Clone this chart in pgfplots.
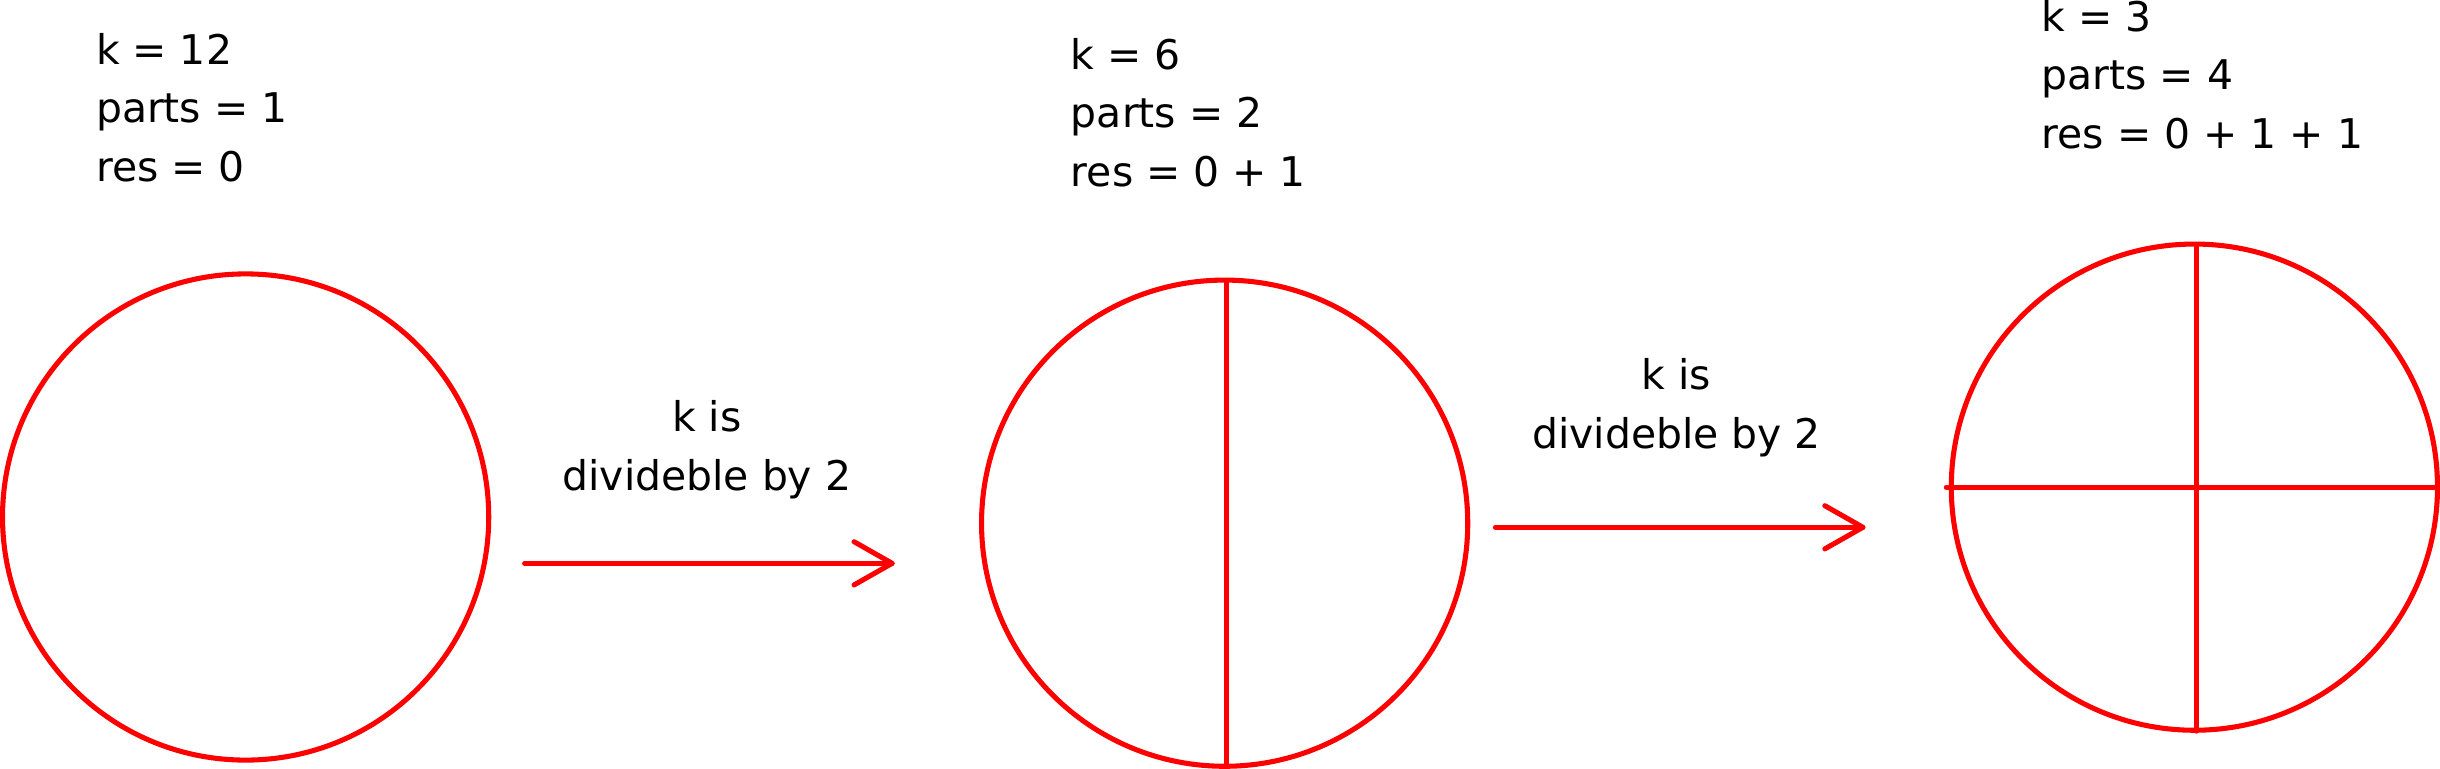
\documentclass[border=0pt]{standalone}
\usepackage{pgfplots}
\pgfplotsset{compat=1.18}
\usepackage{fontspec}
\setmainfont{DejaVu Sans}
\begin{document}
\begin{tikzpicture}
\begin{axis}[hide axis, scale only axis, x=0.01cm, y=0.01cm, xmin=0, xmax=2440, ymin=0, ymax=895, y dir=reverse, clip=false]
\tikzset{every node/.style={font=\fontsize{11.3}{13}\selectfont, inner sep=0pt}, ln/.style={red, solid, no markers, line width=1.4pt, line cap=round, line join=round}}
\draw[red, line width=1.4pt] (axis cs:279,548) circle[radius=2.36cm];
\draw[red, line width=1.4pt] (axis cs:1230,554) circle[radius=2.36cm];
\draw[red, line width=1.4pt] (axis cs:2172,519) circle[radius=2.36cm];
\addplot[ln] coordinates {(1232,320) (1232,790)};
\addplot[ln] coordinates {(2174,284) (2174,756)};
\addplot[ln] coordinates {(1931,519) (2408,519)};
\addplot[ln] coordinates {(550,593) (907,593)};
\addplot[ln] coordinates {(870,572) (907,593) (870,614)};
\addplot[ln] coordinates {(1493,558) (1850,558)};
\addplot[ln] coordinates {(1813,537) (1850,558) (1813,579)};
\node[anchor=base west] at (axis cs:133,108) {k = 12};
\node[anchor=base west] at (axis cs:133,165) {parts = 1};
\node[anchor=base west] at (axis cs:133,222) {res = 0};
\node[anchor=base west] at (axis cs:1080,113) {k = 6};
\node[anchor=base west] at (axis cs:1080,170) {parts = 2};
\node[anchor=base west] at (axis cs:1080,227) {res = 0 + 1};
\node[anchor=base west] at (axis cs:2023,76) {k = 3};
\node[anchor=base west] at (axis cs:2023,133) {parts = 4};
\node[anchor=base west] at (axis cs:2023,190) {res = 0 + 1 + 1};
\node[anchor=base] at (axis cs:727,465) {k is};
\node[anchor=base] at (axis cs:727,522) {divideble by 2};
\node[anchor=base] at (axis cs:1669,424) {k is};
\node[anchor=base] at (axis cs:1669,481) {divideble by 2};
\end{axis}
\end{tikzpicture}
\end{document}
